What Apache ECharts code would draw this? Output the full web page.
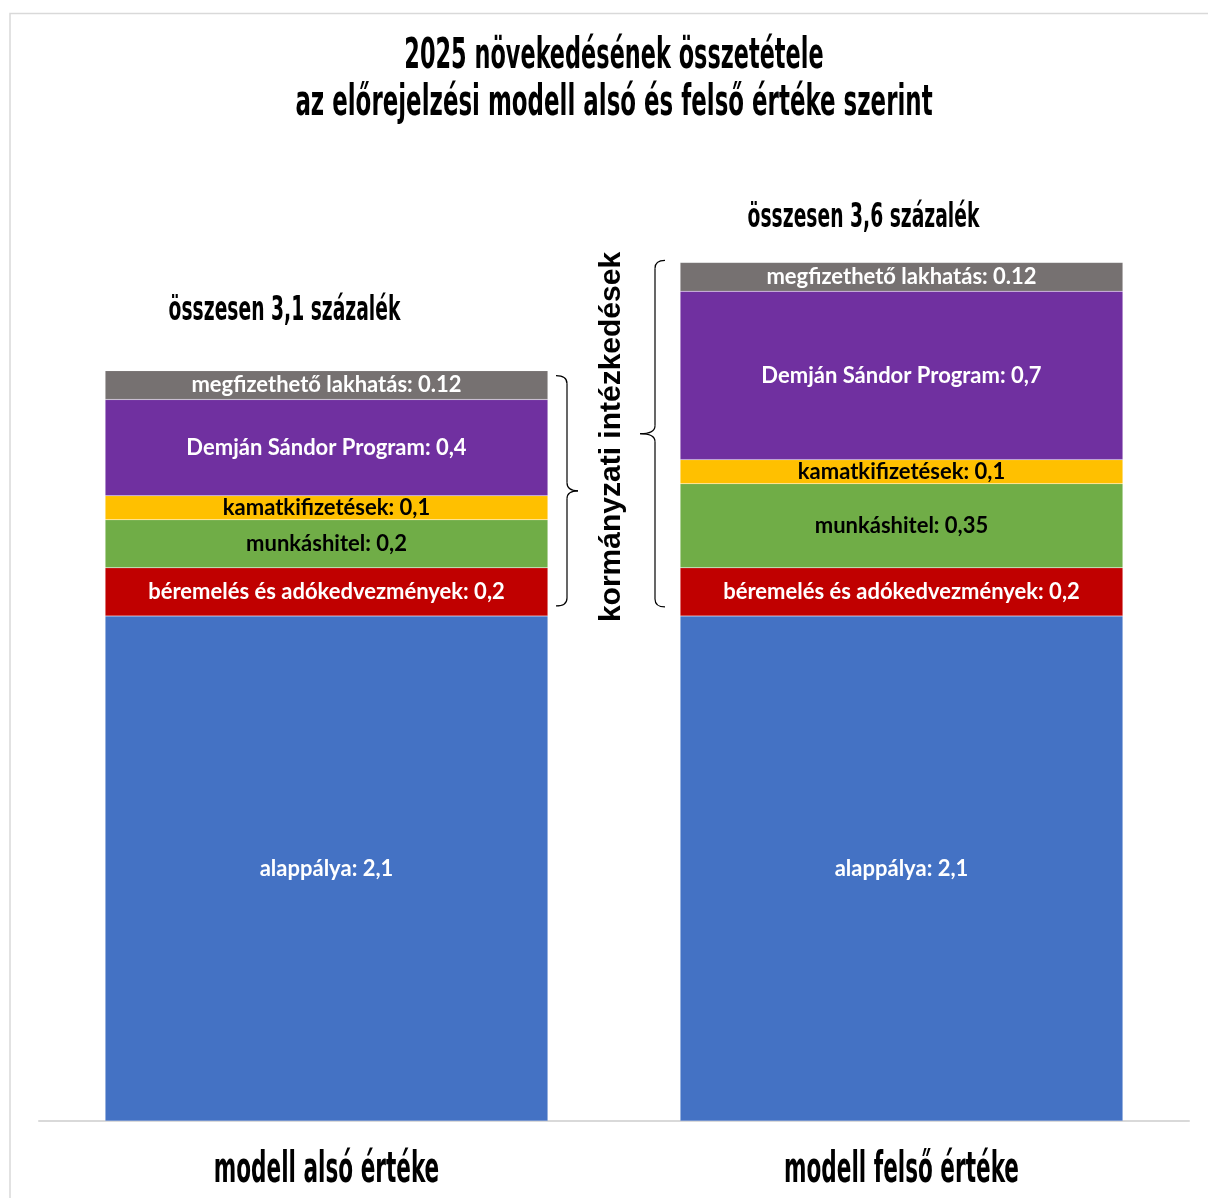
<!DOCTYPE html>
<html>
<head>
<meta charset="utf-8">
<script src="https://cdn.jsdelivr.net/npm/echarts@6/dist/echarts.min.js"></script>
<style>html,body{margin:0;padding:0;background:#fff}#c{width:1208px;height:1198px}</style>
</head>
<body>
<div id="c"></div>
<script>
const categories = ['modell alsó értéke', 'modell felső értéke'];
const seriesNames = ['alappálya', 'béremelés és adókedvezmények', 'munkáshitel', 'kamatkifizetések', 'Demján Sándor Program', 'megfizethető lakhatás'];
const valuesLow = [2.1, 0.2, 0.2, 0.1, 0.4, 0.12];
const valuesHigh = [2.1, 0.2, 0.35, 0.1, 0.7, 0.12];
const valueLabelsLow = ['2,1', '0,2', '0,2', '0,1', '0,4', '0.12'];
const valueLabelsHigh = ['2,1', '0,2', '0,35', '0,1', '0,7', '0.12'];
const totalLabels = ['összesen 3,1 százalék', 'összesen 3,6 százalék'];
const titleLines = ['2025 növekedésének összetétele', 'az előrejelzési modell alsó és felső értéke szerint'];
const bracketLabel = 'kormányzati intézkedések';

const colors = ['#4472C4', '#C00000', '#70AD47', '#FFC000', '#7030A0', '#767171'];
const labelColors = ['#fff', '#fff', '#000', '#000', '#fff', '#fff'];
const condensed = '"DejaVu Sans Condensed", "Liberation Sans Narrow", sans-serif';

const chart = echarts.init(document.getElementById('c'));
const valueLabels = [valueLabelsLow, valueLabelsHigh];

const series = seriesNames.map((name, i) => ({
  name: name,
  type: 'bar',
  stack: 'total',
  barWidth: '77%',
  data: [valuesLow[i], valuesHigh[i]],
  itemStyle: { color: colors[i], borderColor: 'rgba(255,255,255,0.25)', borderWidth: 0.5 },
  label: {
    show: true,
    position: 'inside',
    color: labelColors[i],
    fontFamily: 'Lato, "Open Sans", sans-serif',
    fontWeight: 'bold',
    fontSize: 22,
    formatter: p => name + ': ' + valueLabels[p.dataIndex][i]
  },
  emphasis: { disabled: true },
  animation: false
}));

chart.setOption({
  animation: false,
  grid: { left: 39, right: 19, top: 159, bottom: 77 },
  xAxis: {
    type: 'category',
    data: categories,
    axisLine: { lineStyle: { color: '#d9d9d9', width: 2 } },
    axisTick: { show: false },
    axisLabel: { show: false }
  },
  yAxis: { type: 'value', min: 0, max: 4, show: false, splitLine: { show: false } },
  series: series
});

function drawGraphics() {
  const els = [];
  els.push({ type: 'polyline', shape: { points: [[10, 1198], [10, 13.5], [1208, 13.5]] }, style: { stroke: '#d9d9d9', lineWidth: 1.5, fill: null } });
  titleLines.forEach((t, k) => {
    els.push({ type: 'text', x: 614, y: k === 0 ? 57 : 104, scaleX: k === 0 ? 0.83 : 0.85, scaleY: 1.45,
      style: { text: t, font: 'bold 30px ' + condensed, fill: '#000', textAlign: 'center', textVerticalAlign: 'middle' } });
  });
  // category labels, placed at the category axis positions
  categories.forEach((c, k) => {
    const p = chart.convertToPixel({ seriesIndex: 0 }, [k, 0]);
    els.push({ type: 'text', x: p[0], y: p[1] + 50, scaleX: 0.8, scaleY: 1.4,
      style: { text: c, font: 'bold 30px ' + condensed, fill: '#000', textAlign: 'center', textVerticalAlign: 'middle' } });
  });
  const totals = [valuesLow, valuesHigh].map(a => a.reduce((s, v) => s + v, 0));
  const totalOffsets = [[-42, -59], [-38, -44]];
  totals.forEach((tot, c) => {
    const p = chart.convertToPixel({ seriesIndex: 0 }, [c, tot]);
    els.push({ type: 'text', x: p[0] + totalOffsets[c][0], y: p[1] + totalOffsets[c][1], scaleX: 0.8, scaleY: 1.3,
      style: { text: totalLabels[c], font: 'bold 26px ' + condensed, fill: '#000', textAlign: 'center', textVerticalAlign: 'middle' } });
  });
  const half = 443 / 2;
  const st = { stroke: '#000', lineWidth: 1.2, fill: null };
  function bracket(x0, xv, xt, top, bot) {
    const mid = (top + bot) / 2, r = 8;
    return [
      { type: 'bezierCurve', shape: { x1: x0, y1: top, cpx1: xv, cpy1: top, x2: xv, y2: top + r }, style: st },
      { type: 'line', shape: { x1: xv, y1: top + r, x2: xv, y2: mid - r }, style: st },
      { type: 'bezierCurve', shape: { x1: xv, y1: mid - r, cpx1: xv, cpy1: mid, x2: xt, y2: mid }, style: st },
      { type: 'bezierCurve', shape: { x1: xt, y1: mid, cpx1: xv, cpy1: mid, x2: xv, y2: mid + r }, style: st },
      { type: 'line', shape: { x1: xv, y1: mid + r, x2: xv, y2: bot - r }, style: st },
      { type: 'bezierCurve', shape: { x1: xv, y1: bot - r, cpx1: xv, cpy1: bot, x2: x0, y2: bot }, style: st }
    ];
  }
  const lTop = chart.convertToPixel({ seriesIndex: 0 }, [0, totals[0]]);
  const lBot = chart.convertToPixel({ seriesIndex: 0 }, [0, valuesLow[0]]);
  const rx = lTop[0] + half;
  els.push(...bracket(rx + 8, rx + 19, rx + 30, lTop[1] + 5, lBot[1] - 10));
  const rTop = chart.convertToPixel({ seriesIndex: 0 }, [1, totals[1]]);
  const rBot = chart.convertToPixel({ seriesIndex: 0 }, [1, valuesHigh[0]]);
  const lx = rTop[0] - half;
  els.push(...bracket(lx - 15, lx - 25, lx - 40, rTop[1] - 2, rBot[1] - 9));
  els.push({ type: 'text', x: 612, y: 437, rotation: Math.PI / 2,
    style: { text: bracketLabel, font: 'bold 30px "Liberation Sans", Arial, sans-serif', fill: '#000', textAlign: 'center', textVerticalAlign: 'middle' } });
  chart.setOption({ graphic: { elements: els } });
}
drawGraphics();
</script>
</body>
</html>
